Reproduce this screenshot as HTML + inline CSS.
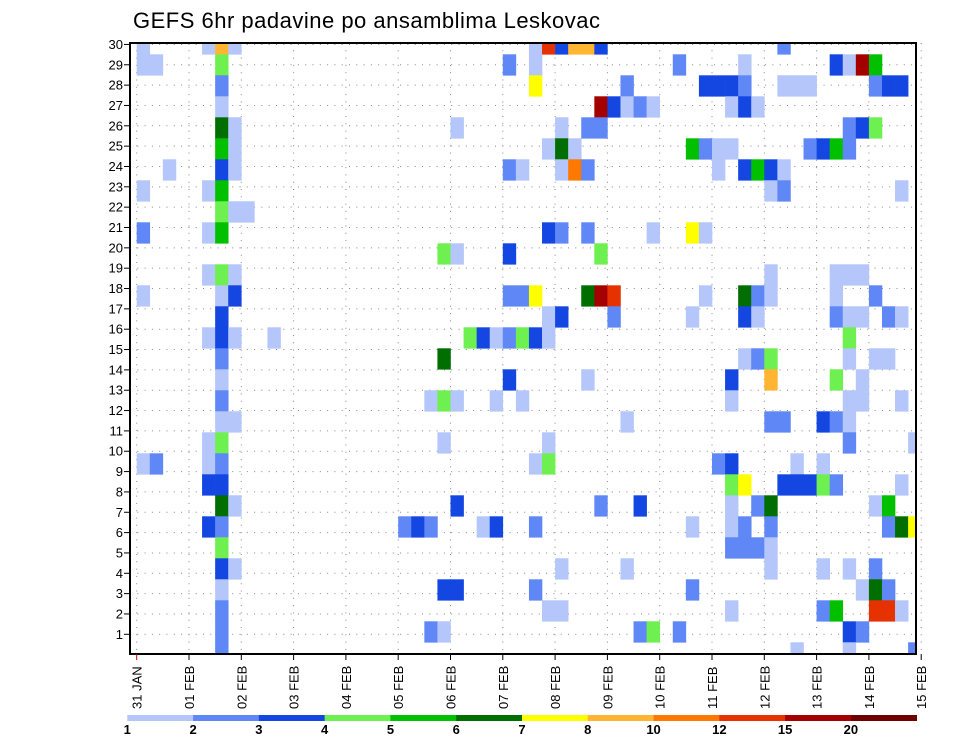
<!DOCTYPE html>
<html><head><meta charset="utf-8"><style>
html,body{margin:0;padding:0;background:#fff;}
svg{display:block;font-family:"Liberation Sans",sans-serif;}
</style></head><body>
<svg id="chart" width="960" height="742" viewBox="0 0 960 742" xmlns="http://www.w3.org/2000/svg">
<defs><clipPath id="plotclip"><rect x="130" y="43" width="786" height="611"/></clipPath></defs>
<text x="133" y="28" font-size="22" textLength="467" fill="#000">GEFS 6hr padavine po ansamblima Leskovac</text>
<g id="grid"></g>
<g id="cells" clip-path="url(#plotclip)"></g>
<rect x="130" y="43" width="786" height="611" fill="none" stroke="#000" stroke-width="2"/>
<g id="yaxis"></g>
<g id="xaxis"></g>
<g id="legend"></g>
</svg>
<script>
// Day tick labels
const dayLabels = ["31 JAN","01 FEB","02 FEB","03 FEB","04 FEB","05 FEB","06 FEB","07 FEB","08 FEB","09 FEB","10 FEB","11 FEB","12 FEB","13 FEB","14 FEB","15 FEB"];
// Member tick labels
const memberTicks = [1,2,3,4,5,6,7,8,9,10,11,12,13,14,15,16,17,18,19,20,21,22,23,24,25,26,27,28,29,30];
// Legend levels (mm)
const levelBounds = [1,2,3,4,5,6,7,8,10,12,15,20];
const levelColors = ["#b4c6fa","#5f87f6","#1446e1","#6ef050","#00c000","#006e00","#ffff00","#ffb432","#ff7800","#e63200","#a50000","#6e0000"];
// Precip value per code (mm per 6h)
const codeValues = {a:1.5,b:2.5,c:3.5,d:4.5,e:5.5,f:6.5,g:7.5,h:9,i:11,j:13.5,k:17.5,l:22};
// Cells per ensemble row (top to bottom): "timestep+code"
const memberCells = [
"0a 5a 6h 7a 30a 31j 32c 33h 34h 35c 49b",
"0a 1a 6d 28b 30a 41b 46a 53c 54a 55k 56e",
"6b 30g 37b 43c 44c 45c 46b 49a 50a 51a 56b 57c 58c",
"6a 35k 36c 37a 38b 39a 45a 46c 47a",
"6f 7a 24a 32a 34b 35b 54b 55c 56d",
"6e 7a 31a 32f 33a 42e 43b 44a 45a 51b 52c 53e 54b",
"2a 6c 7a 28b 29a 32a 33i 34b 44a 46c 47e 48c 49a",
"0a 5a 6e 48a 49b 58a",
"6d 7a 8a",
"0b 5a 6e 31c 32b 34b 39a 42g 43a",
"23d 24a 28c 35d",
"5a 6d 7a 48a 53a 54a 55a",
"0a 6a 7c 28b 29b 30g 34f 35k 36j 43a 46f 47b 48a 53a 56b",
"6c 31a 32c 36b 42a 46c 47a 53b 54a 55a 57b 58a",
"5a 6c 7a 10a 25d 26c 27a 28b 29d 30c 31a 54d",
"6b 23f 46a 47b 48d 54a 56a 57a",
"6a 28c 34a 45c 48h 53d 55a",
"6b 22a 23d 24a 27a 29a 45a 54a 55a 58a",
"6a 7a 37a 48b 49b 52c 53b 54a",
"5a 6d 23a 31a 54b 59a",
"0a 1b 5a 6b 30a 31d 44b 45c 50a 52a",
"5c 6c 45d 46g 49c 50c 51c 52d 53b 58a",
"6f 7a 24c 35b 38c 45a 47b 48f 56a 57e",
"5c 6b 20b 21c 22b 26a 27c 30b 42a 45a 46b 48b 57b 58f 59g",
"6d 45b 46b 47b 48a",
"6c 7a 32a 37a 48a 52a 54a 56b",
"6a 23c 24c 30b 42b 55a 56f 57b",
"6b 31a 32a 45a 52b 53e 56j 57j 58a",
"6b 22b 23a 38b 39d 41b 54c 55b",
"6b 50a 54a 59b"
];

const NS="http://www.w3.org/2000/svg";
function mk(tag, attrs, parent){const e=document.createElementNS(NS,tag);for(const k in attrs)e.setAttribute(k,attrs[k]);parent.appendChild(e);return e;}
// axis functions
const X0=136.7, DAYW=52.3, STEPW=DAYW/4;
const xDay = d => X0 + d*DAYW;
const xStep = k => X0 + k*STEPW;
const yRowTop = i => 33.3 + i*21;
const ROWH = 21;
const yTick = m => 634.3 - (m-1)*20.34;
function colorFor(v){let idx=-1;for(let j=0;j<levelBounds.length;j++){if(v>=levelBounds[j])idx=j;}return idx<0?null:levelColors[idx];}

const grid=document.getElementById('grid');
memberTicks.forEach(m=>{
  const l=mk('line',{x1:130,x2:916,y1:yTick(m),y2:yTick(m),stroke:'#888','stroke-width':1,'stroke-dasharray':'1 6.3'},grid);
  
  
});
dayLabels.forEach((d,i)=>{
  const l=mk('line',{x1:xDay(i),x2:xDay(i),y1:43,y2:654,stroke:'#888','stroke-width':1,'stroke-dasharray':'1 6.3'},grid);
  
  
});

const cells=document.getElementById('cells');
memberCells.forEach((row,i)=>{
  row.split(' ').forEach(tok=>{
    if(!tok)return;
    const k=parseInt(tok,10), code=tok.replace(/[0-9]/g,'');
    const v=codeValues[code], c=colorFor(v);
    if(!c)return;
    const r=mk('rect',{x:xStep(k),y:yRowTop(i),width:STEPW+0.3,height:ROWH+0.3,fill:c},cells);
    
    
  });
});

const ya=document.getElementById('yaxis');
memberTicks.forEach(m=>{
  const t=mk('line',{x1:124,x2:130,y1:yTick(m),y2:yTick(m),stroke:'#000','stroke-width':1},ya);
  
  
  const tx=mk('text',{x:123,y:yTick(m)+4.5,'text-anchor':'end','font-size':13,fill:'#000'},ya);
  tx.textContent=String(m);
  
  
});

const xa=document.getElementById('xaxis');
dayLabels.forEach((d,i)=>{
  const x=xDay(i);
  const t=mk('line',{x1:x,x2:x,y1:654,y2:660,stroke:i===0?'#c00':'#000','stroke-width':1},xa);
  
  
  const tx=mk('text',{x:0,y:0,'font-size':13,fill:'#000',transform:`translate(${x+5},709) rotate(-90)`},xa);
  tx.textContent=d;
  
  
});

const lg=document.getElementById('legend');
const LX=127.3, LW=(916.7-127.3)/levelColors.length;
levelColors.forEach((c,j)=>{
  const r=mk('rect',{x:LX+j*LW,y:715,width:LW+0.3,height:6,fill:c},lg);
  
  
});
levelBounds.forEach((b,j)=>{
  const tx=mk('text',{x:LX+j*LW,y:734,'text-anchor':'middle','font-size':13,'font-weight':'bold',fill:'#000'},lg);
  tx.textContent=String(b);
  
  
});
</script>
</body></html>
